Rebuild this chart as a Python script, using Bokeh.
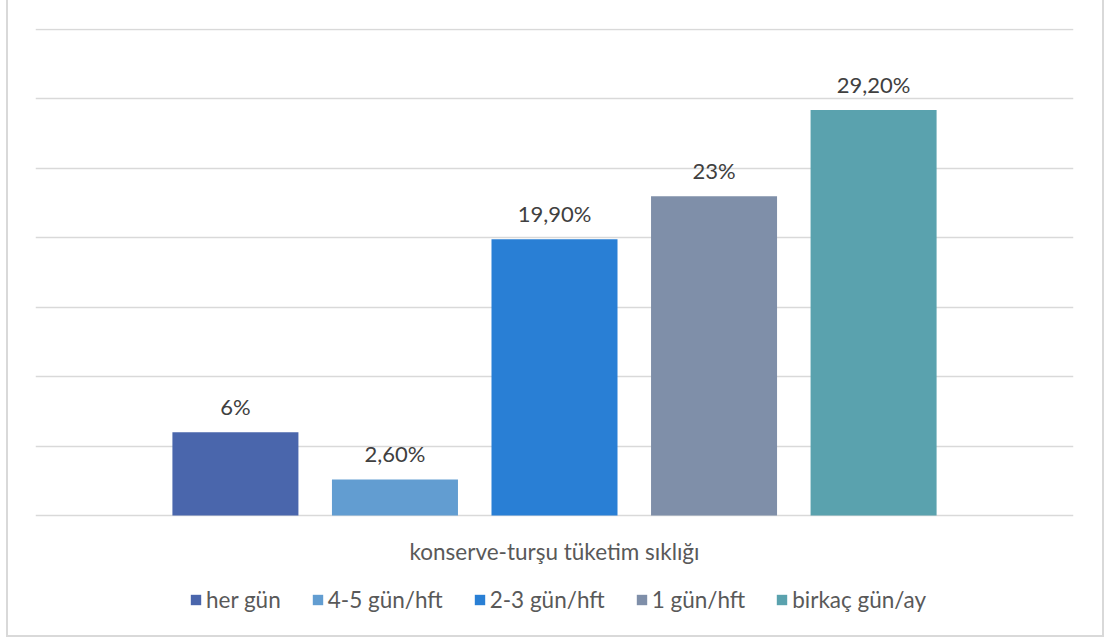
from bokeh.plotting import figure
from bokeh.models import ColumnDataSource, FactorRange, Range1d, FixedTicker, Legend, LegendItem, LabelSet
from bokeh.core.properties import value
from bokeh.transform import dodge
from bokeh.embed import file_html
from bokeh.resources import INLINE

# Consumption frequency of canned food / pickles (percent of respondents)
category = ["konserve-turşu tüketim sıklığı"]
series = ["her gün", "4-5 gün/hft", "2-3 gün/hft", "1 gün/hft", "birkaç gün/ay"]
values = [6, 2.6, 19.9, 23, 29.2]
value_labels = ["6%", "2,60%", "19,90%", "23%", "29,20%"]
colors = ["#4A66AC", "#629DD1", "#297FD5", "#7F8FA9", "#5AA2AE"]
grid_ticks = [0, 5, 10, 15, 20, 25, 30, 35]

FONT = "Lato"
TEXT_DARK = "#404040"
TEXT_MID = "#595959"

# the frame reaches down to the bottom of the chart area; the space under
# the zero line holds the category caption and the legend
p = figure(
    x_range=FactorRange(*category, range_padding=0),
    y_range=Range1d(-8.570, 35.072),
    width=1098, height=640,
    output_backend="svg", toolbar_location=None,
    min_border_left=27, min_border_right=33,
    min_border_top=29, min_border_bottom=5,
)
p.styles = {"position": "absolute", "left": "6px", "top": "-3px",
            "box-sizing": "border-box", "border": "2px solid #D9D9D9",
            "overflow": "hidden"}
p.outline_line_color = None
p.background_fill_color = "white"
p.border_fill_color = "white"

# horizontal gridlines only
p.xgrid.grid_line_color = None
p.ygrid.ticker = FixedTicker(ticks=grid_ticks)
p.ygrid.grid_line_color = "#D9D9D9"
p.ygrid.grid_line_width = 1.5
p.xaxis.visible = False
p.yaxis.visible = False

pitch = 0.1537
bar_w = 0.1214
offsets = [(i - 2) * pitch for i in range(len(series))]

items = []
for name, val, lab, col, off in zip(series, values, value_labels, colors, offsets):
    src = ColumnDataSource(dict(cat=category, val=[val], lab=[lab]))
    r = p.vbar(x=dodge("cat", off, range=p.x_range), top="val", width=bar_w,
               source=src, fill_color=col, line_color=None)
    items.append(LegendItem(label=name, renderers=[r]))
    p.add_layout(LabelSet(x=dodge("cat", off, range=p.x_range), y="val", text="lab",
                          source=src, text_align="center", text_baseline="alphabetic",
                          y_offset=17, text_font=value(FONT), text_font_size="22px",
                          text_color=TEXT_DARK))

# category caption under the bars
cap = ColumnDataSource(dict(cat=category))
p.text(x="cat", y=-2.59, text="cat", source=cap, text_align="center",
       text_baseline="alphabetic", text_font=value(FONT), text_font_size="22.5px",
       text_color=TEXT_MID)

legend = Legend(items=items, orientation="horizontal", location=(154, 21),
                glyph_width=13, glyph_height=13, label_standoff=4, spacing=30,
                label_text_font=FONT, label_text_font_size="22.5px",
                label_text_color=TEXT_MID, border_line_color=None,
                background_fill_alpha=0, padding=0, margin=0)
p.add_layout(legend, "center")

open("out.html", "w").write(file_html(p, INLINE))
